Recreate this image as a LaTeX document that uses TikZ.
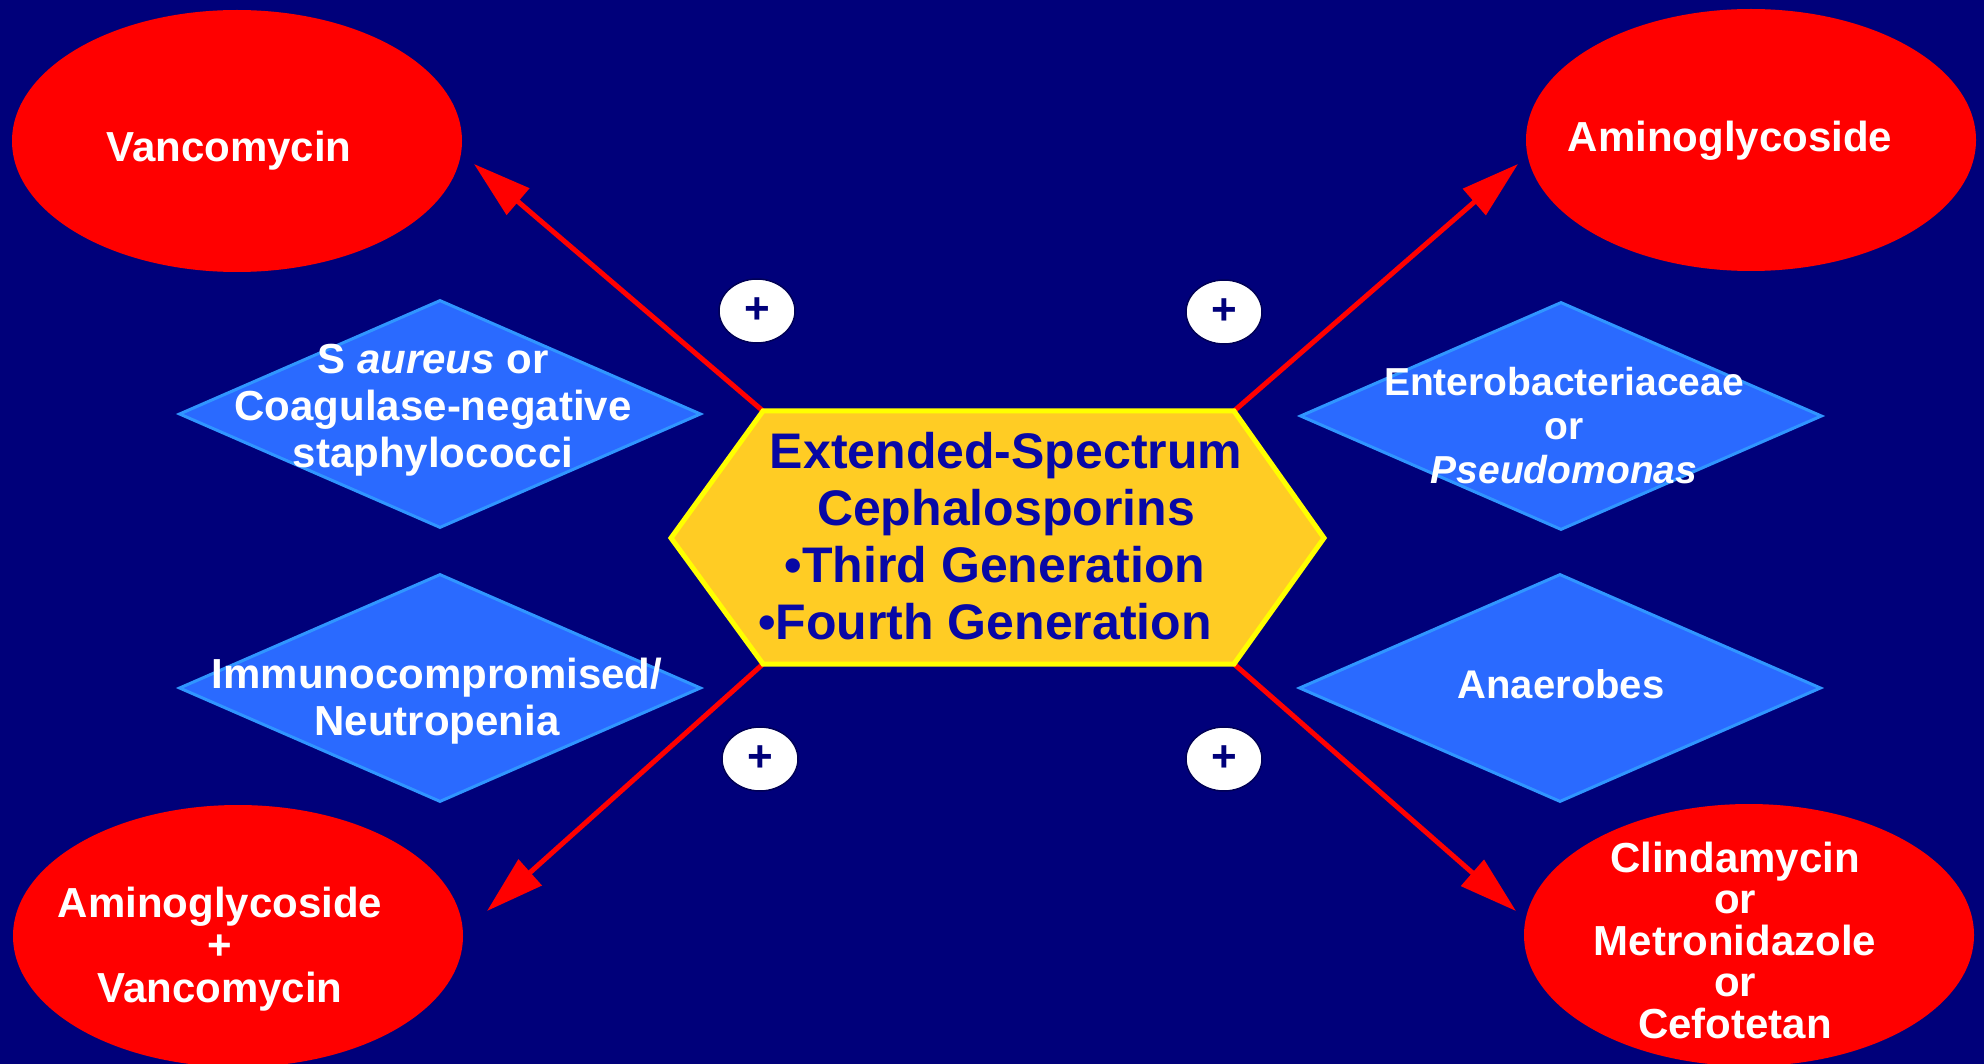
\documentclass[tikz,border=0pt]{standalone}
\usepackage{fontspec}
\setmainfont{Liberation Sans}
\usetikzlibrary{shapes.geometric,arrows.meta}
\definecolor{navybg}{RGB}{0,0,122}
\definecolor{ovalred}{RGB}{255,0,0}
\definecolor{diablue}{RGB}{42,106,255}
\definecolor{diaedge}{RGB}{48,150,255}
\definecolor{hexfill}{RGB}{255,204,36}
\definecolor{hexedge}{RGB}{255,255,0}
\definecolor{hextext}{RGB}{8,8,165}
\begin{document}
\begin{tikzpicture}[x=1pt,y=-1pt,
  oval/.style={ellipse, fill=ovalred, minimum width=450pt, minimum height=262pt, inner sep=0pt},
  dia/.style={diamond, fill=diablue, draw=diaedge, line width=3pt, minimum width=522pt, minimum height=228pt, inner sep=0pt},
  wtext/.style={text=white, font=\bfseries\fontsize{42}{42.5}\selectfont, align=center, inner sep=0pt},
  hexshape/.style={fill=hexfill, draw=hexedge, line width=5pt, line join=miter},
  hext/.style={text=hextext, font=\bfseries\fontsize{50}{57}\selectfont, align=center, inner sep=0pt},
  redarrow/.style={draw=ovalred, line width=5pt, -{Triangle[length=58pt,width=34pt]}},
  plusc/.style={ellipse, fill=white, draw=navybg!70!black, line width=1.5pt, minimum width=76pt, minimum height=64pt, inner sep=0pt, text=navybg, font=\bfseries\fontsize{44}{44}\selectfont}
]
\useasboundingbox (0,0) rectangle (1984,1064);
\fill[navybg] (0,0) rectangle (1984,1064);

% ovals
\node[oval] (vancO) at (237,141) {};
\node[oval] (aminoO) at (1751,140) {};
\node[oval] (combO) at (238,936) {};
\node[oval] (clinO) at (1749,935) {};

% diamonds
\node[dia] (staD) at (440,414) {};
\node[dia] (entD) at (1561,416) {};
\node[dia] (immD) at (440,688) {};
\node[dia] (anaD) at (1560,688) {};

% hexagon corners
\coordinate (hxNW) at (763,411);
\coordinate (hxNE) at (1234,411);
\coordinate (hxE) at (1324,538);
\coordinate (hxSE) at (1234,664);
\coordinate (hxSW) at (763,664);
\coordinate (hxW) at (671,538);

% arrow tips
\coordinate (tipTL) at (474,164);
\coordinate (tipTR) at (1518,164);
\coordinate (tipBL) at (487,911);
\coordinate (tipBR) at (1516,911);

\draw[redarrow] (hxNW) -- (tipTL);
\draw[redarrow] (hxNE) -- (tipTR);
\draw[redarrow] (hxSW) -- (tipBL);
\draw[redarrow] (hxSE) -- (tipBR);

\path[hexshape] (hxNW) -- (hxNE) -- (hxE) -- (hxSE) -- (hxSW) -- (hxW) -- cycle;
\node[hext] (hexT) at (995,536) {\hspace*{22pt}Extended-Spectrum\\\hspace*{22pt}Cephalosporins\\•Third Generation\hspace*{20pt}\\•Fourth Generation\hspace*{20pt}};

% plus signs
\node[plusc] (pTL) at (757,311) {+};
\node[plusc] (pTR) at (1224,312) {+};
\node[plusc] (pBL) at (760,759) {+};
\node[plusc] (pBR) at (1224,759) {+};

% oval texts
\node[wtext, anchor=base] (vancT) at (229,162) {Vancomycin};
\node[wtext, anchor=base] (aminoT) at (1730,152) {Aminoglycoside};
\node[wtext] (combT) at (220,949) {Aminoglycoside\\+\\Vancomycin};
\node[wtext, font=\bfseries\fontsize{42}{41.5}\selectfont] (clinT) at (1735,940) {Clindamycin\\or\\Metronidazole\\or\\Cefotetan};

% diamond texts
\node[wtext, font=\bfseries\fontsize{42}{47}\selectfont] (staT) at (433,410) {S \textit{aureus} or\\Coagulase-negative\\staphylococci};
\node[wtext, font=\bfseries\fontsize{42}{47}\selectfont] (immT) at (437,701) {Immunocompromised/\\Neutropenia};
\node[wtext, font=\bfseries\fontsize{39}{44}\selectfont] (entT) at (1564,426) {Enterobacteriaceae\\or\\\textit{Pseudomonas}};
\node[wtext, font=\bfseries\fontsize{40}{44}\selectfont, anchor=base] (anaT) at (1561,698) {Anaerobes};
\end{tikzpicture}
\end{document}
